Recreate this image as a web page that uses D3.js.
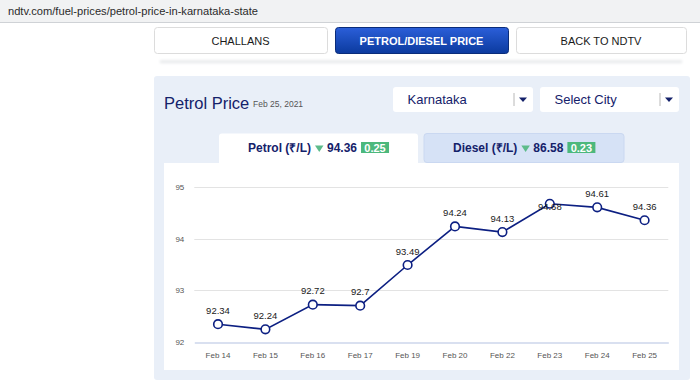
<!DOCTYPE html>
<html>
<head>
<meta charset="utf-8">
<script src="https://cdn.jsdelivr.net/npm/d3@7"></script>
<style>
  html, body { margin: 0; padding: 0; background: #ffffff; }
  svg { display: block; font-family: "Liberation Sans", Arial, Helvetica, sans-serif; }
</style>
</head>
<body>
<svg id="c" width="700" height="386"></svg>
<script>
// ---- data ----
const categories = ["Feb 14", "Feb 15", "Feb 16", "Feb 17", "Feb 19", "Feb 20", "Feb 22", "Feb 23", "Feb 24", "Feb 25"];
const petrolPrices = [92.34, 92.24, 92.72, 92.7, 93.49, 94.24, 94.13, 94.68, 94.61, 94.36];
const yTicks = [92, 93, 94, 95];
const navButtons = ["CHALLANS", "PETROL/DIESEL PRICE", "BACK TO NDTV"];
const tabLabels = ["Petrol (₹/L)", "Diesel (₹/L)"];
const tabPrices = ["94.36", "86.58"];
const tabChanges = ["0.25", "0.23"];
const dropdowns = ["Karnataka", "Select City"];
const urlText = "ndtv.com/fuel-prices/petrol-price-in-karnataka-state";
const titleText = "Petrol Price";
const dateText = "Feb 25, 2021";

const svg = d3.select("#c");
const defs = svg.append("defs");

const grad = defs.append("linearGradient").attr("id", "btnGrad").attr("x1", 0).attr("y1", 0).attr("x2", 0).attr("y2", 1);
grad.append("stop").attr("offset", "0%").attr("stop-color", "#2b5fd9");
grad.append("stop").attr("offset", "100%").attr("stop-color", "#0b3a9e");

const blur = defs.append("filter").attr("id", "blur").attr("x", "-5%").attr("y", "-200%").attr("width", "110%").attr("height", "500%");
blur.append("feGaussianBlur").attr("stdDeviation", 1.8);

// ---- browser url bar ----
svg.append("rect").attr("x", 0).attr("y", 0).attr("width", 700).attr("height", 22).attr("fill", "#f1f2f3");
svg.append("line").attr("x1", 0).attr("x2", 700).attr("y1", 22.5).attr("y2", 22.5).attr("stroke", "#cfd2d6");
svg.append("text").attr("x", 8).attr("y", 14.5).attr("font-size", 11).attr("fill", "#2b2b2b")
  .attr("textLength", 250).attr("lengthAdjust", "spacingAndGlyphs").text(urlText);

// ---- nav buttons ----
const btnX = [154, 335, 516];
const btnW = [173, 173, 170];
navButtons.forEach((b, i) => {
  const active = i === 1;
  svg.append("rect").attr("x", btnX[i] + 0.5).attr("y", 27.5).attr("width", btnW[i]).attr("height", 26).attr("rx", 3)
    .attr("fill", active ? "url(#btnGrad)" : "#ffffff")
    .attr("stroke", active ? "#0a2c7a" : "#dcdcdc");
  svg.append("text").attr("x", btnX[i] + btnW[i] / 2).attr("y", 44.5).attr("text-anchor", "middle")
    .attr("font-size", 11).attr("fill", active ? "#ffffff" : "#1a1a1a")
    .attr("font-weight", active ? 600 : 400)
    .text(b);
});
// soft shadow under the buttons
svg.append("rect").attr("x", 160).attr("y", 60.5).attr("width", 522).attr("height", 2.5).attr("fill", "#e3e5e8").attr("filter", "url(#blur)");

// ---- panel ----
svg.append("rect").attr("x", 154).attr("y", 76).attr("width", 536).attr("height", 304).attr("rx", 3).attr("fill", "#e9eff8");

svg.append("text").attr("x", 164).attr("y", 109).attr("font-size", 16.5).attr("fill", "#14216a").text(titleText);
svg.append("text").attr("x", 253).attr("y", 106.5).attr("font-size", 8.5).attr("fill", "#555").text(dateText);

// dropdowns
const ddX = [393, 540];
const ddW = [140, 139];
dropdowns.forEach((d, i) => {
  svg.append("rect").attr("x", ddX[i]).attr("y", 87).attr("width", ddW[i]).attr("height", 25).attr("rx", 3).attr("fill", "#ffffff");
  svg.append("text").attr("x", ddX[i] + 14.5).attr("y", 104).attr("font-size", 13).attr("fill", "#14216a").text(d);
  const sx = ddX[i] + ddW[i] - 19;
  svg.append("line").attr("x1", sx).attr("x2", sx).attr("y1", 93).attr("y2", 106).attr("stroke", "#b8b8b8");
  const ax = ddX[i] + ddW[i] - 10;
  svg.append("path").attr("d", `M${ax - 4},97.5 L${ax + 4},97.5 L${ax},102 Z`).attr("fill", "#14216a");
});

// ---- tabs ----
const tabX = [219, 424];
const tabW = [199, 200];
const textStart = [248, 453];
tabLabels.forEach((t, i) => {
  const active = i === 0;
  svg.append("rect").attr("x", tabX[i]).attr("y", 133.5).attr("width", tabW[i]).attr("height", active ? 32 : 29).attr("rx", 3)
    .attr("fill", active ? "#ffffff" : "#d6e2f6")
    .attr("stroke", active ? "none" : "#cad8f1");
  const g = svg.append("g");
  const lbl = g.append("text").attr("x", textStart[i]).attr("y", 152).attr("font-size", 12).attr("font-weight", "bold")
    .attr("fill", "#14216a").text(t);
  let x = textStart[i] + lbl.node().getComputedTextLength() + 4;
  g.append("path").attr("d", `M${x},145.5 L${x + 8.5},145.5 L${x + 4.25},152 Z`).attr("fill", "#5dbb8a");
  x += 12;
  const pr = g.append("text").attr("x", x).attr("y", 152).attr("font-size", 12).attr("font-weight", "bold")
    .attr("fill", "#14216a").text(tabPrices[i]);
  x += pr.node().getComputedTextLength() + 4;
  g.append("rect").attr("x", x).attr("y", 142).attr("width", 28).attr("height", 11).attr("fill", "#4cb87c");
  g.append("text").attr("x", x + 14).attr("y", 151.5).attr("text-anchor", "middle").attr("font-size", 11).attr("font-weight", "bold")
    .attr("fill", "#ffffff").text(tabChanges[i]);
});

// ---- chart box ----
svg.append("rect").attr("x", 164).attr("y", 163).attr("width", 515).attr("height", 207).attr("fill", "#ffffff");

const plot = { left: 194.3, right: 668.3, top: 187.3, bottom: 341.7 };
const x = d3.scaleBand().domain(categories).range([plot.left, plot.right]).padding(0);
const y = d3.scaleLinear().domain([92, 95]).range([plot.bottom, plot.top]);

// grid lines
svg.append("g").selectAll("line").data(yTicks.filter(t => t !== 92)).join("line")
  .attr("x1", plot.left).attr("x2", plot.right)
  .attr("y1", d => Math.round(y(d)) + 0.5).attr("y2", d => Math.round(y(d)) + 0.5)
  .attr("stroke", "#e3e3e3");

// y axis (labels only)
const yAxis = d3.axisLeft(y).tickValues(yTicks).tickSize(0).tickPadding(0).tickFormat(d3.format("d"));
const yg = svg.append("g").attr("transform", `translate(${plot.left - 10},0)`).call(yAxis);
yg.select(".domain").remove();
yg.selectAll("text").attr("font-size", 8).attr("fill", "#555").attr("font-family", "'Liberation Sans', Arial, sans-serif").attr("dy", "0.32em");

// x axis
const xAxis = d3.axisBottom(x).tickSize(0).tickPadding(0);
const xg = svg.append("g").attr("transform", `translate(0,${Math.round(plot.bottom) + 0.5})`).call(xAxis);
xg.select(".domain").attr("stroke", "#ccd6eb").attr("stroke-width", 1.5);
xg.selectAll("text").attr("font-size", 8).attr("fill", "#555").attr("font-family", "'Liberation Sans', Arial, sans-serif").attr("y", 10).attr("dy", "0.71em");

// line
const cx = d => x(d) + x.bandwidth() / 2;
const pts = categories.map((c, i) => ({ c, v: petrolPrices[i] }));
svg.append("path").datum(pts)
  .attr("d", d3.line().x(d => cx(d.c)).y(d => y(d.v)))
  .attr("fill", "none").attr("stroke", "#0c1f82").attr("stroke-width", 1.6);

// markers
svg.append("g").selectAll("circle").data(pts).join("circle")
  .attr("cx", d => cx(d.c)).attr("cy", d => y(d.v)).attr("r", 4.3)
  .attr("fill", "#ffffff").attr("stroke", "#0c1f82").attr("stroke-width", 1.6);

// data labels
svg.append("g").selectAll("text").data(pts).join("text")
  .attr("x", d => cx(d.c))
  .attr("y", d => {
    const above = y(d.v) - 10.5;
    return (above - 7 < plot.top) ? y(d.v) + 6 : above;
  })
  .attr("text-anchor", "middle").attr("font-size", 9.5).attr("fill", "#1a1a1a")
  .text(d => d.v);
</script>
</body>
</html>
